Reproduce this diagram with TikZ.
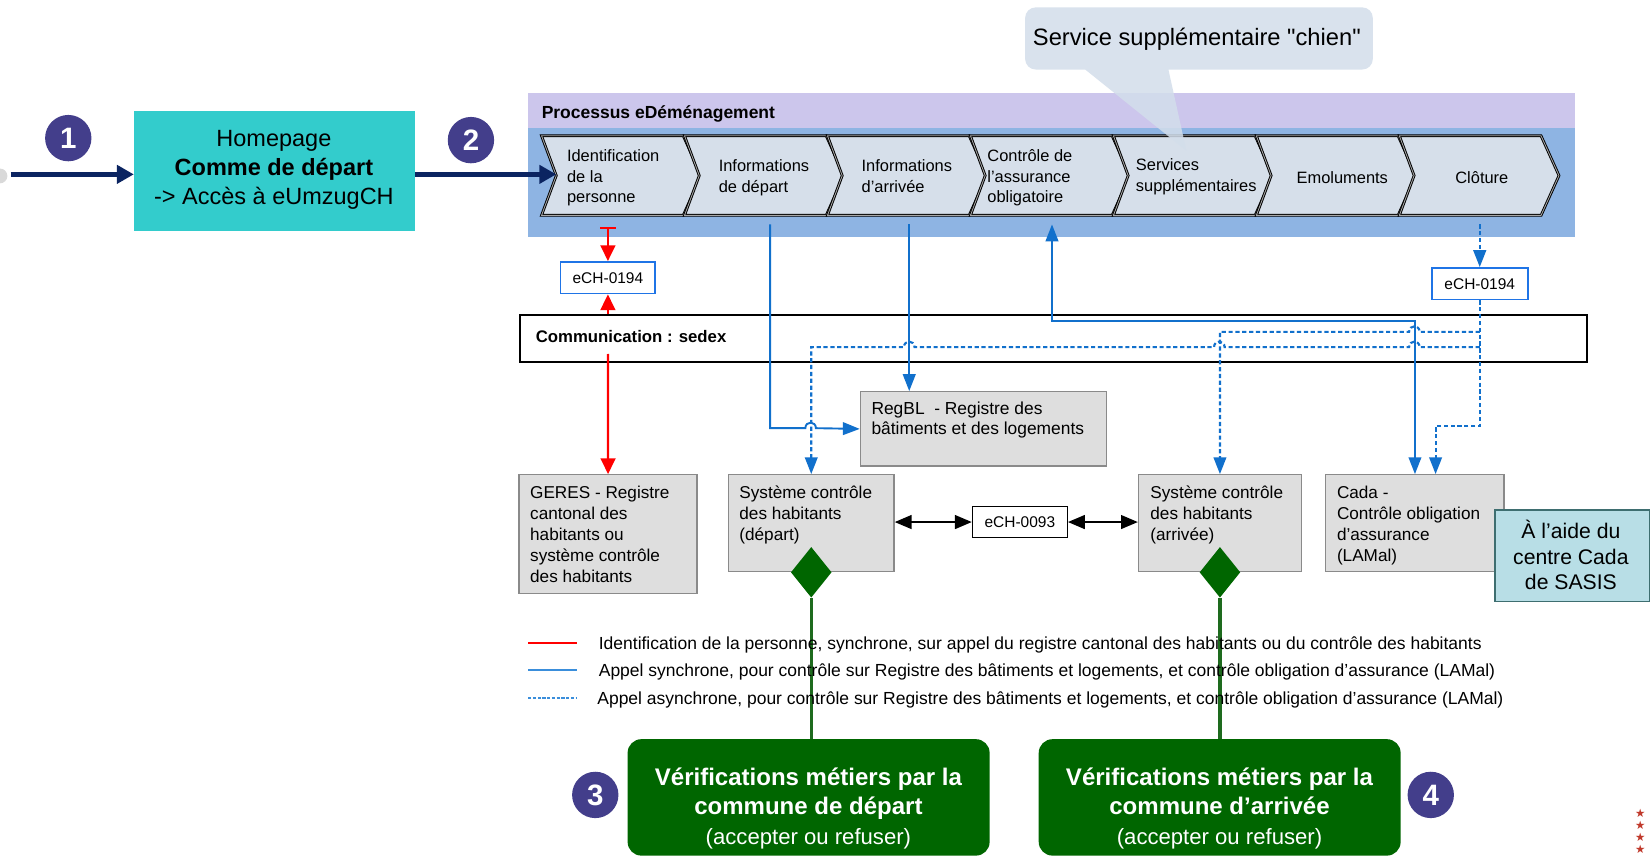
\documentclass[tikz,border=0pt]{standalone}
\usepackage{fontspec}
\setmainfont{Liberation Sans}[Ligatures=TeXOff]
\newfontfamily\starfont{DejaVu Sans}
\usetikzlibrary{arrows.meta,shapes.geometric}
\newcommand{\myfs}[2]{\fontsize{#1pt}{#2pt}\selectfont}
\definecolor{navy}{HTML}{0B2461}
\definecolor{numc}{HTML}{433E8B}
\definecolor{turq}{HTML}{33CCCC}
\definecolor{bandc}{HTML}{CCC6EC}
\definecolor{contc}{HTML}{8EB4E3}
\definecolor{chevc}{HTML}{D6DFEA}
\definecolor{lblue}{HTML}{1170CC}
\definecolor{echb}{HTML}{1F74E6}
\definecolor{boxg}{HTML}{DEDEDE}
\definecolor{boxb}{HTML}{8A8A8A}
\definecolor{dgreen}{HTML}{006600}
\definecolor{glin}{HTML}{1E6B1E}
\definecolor{sasisc}{HTML}{B8DEE6}
\definecolor{sasisb}{HTML}{3E6E70}
\definecolor{callc}{HTML}{D3DEEB}
\definecolor{legblue}{HTML}{3A8EDB}
\definecolor{starc}{HTML}{C0392B}
\tikzset{
  numcirc/.style={circle, fill=numc, minimum size=44pt, inner sep=0pt, text=white, font=\myfs{28}{30}\bfseries},
  navyarr/.style={draw=navy, line width=4.5pt, -{Triangle[length=16pt,width=17pt]}},
  chevron/.style={fill=chevc, draw=black, line width=0.9pt, double=gray!70, double distance=0.8pt},
  ptxt/.style={inner sep=0pt, anchor=north west, align=left},
  ctxt/.style={inner sep=0pt, anchor=north, align=center},
  echbox/.style={draw=echb, line width=1.6pt, fill=white, inner sep=0pt, font=\myfs{14.7}{17}},
  graybox/.style={draw=boxb, line width=1.3pt, fill=boxg, inner sep=0pt, anchor=north west},
  redarr/.style={draw=red, line width=2.2pt, -{Triangle[length=15pt,width=14pt]}},
  bluearr/.style={draw=lblue, line width=1.8pt, -{Triangle[length=16pt,width=12pt]}},
  bluedbl/.style={draw=lblue, line width=1.8pt, {Triangle[length=16pt,width=12pt]}-{Triangle[length=16pt,width=12pt]}},
  dotarr/.style={draw=lblue, line width=2pt, dash pattern=on 4pt off 2.5pt, -{Triangle[length=16pt,width=12pt]}},
  blkarr/.style={draw=black, line width=2pt, {Triangle[length=16pt,width=13pt]}-{Triangle[length=16pt,width=13pt]}},
  greenbox/.style={fill=dgreen, rounded corners=13pt, inner sep=0pt, anchor=north west},
  gdiam/.style={diamond, fill=dgreen, inner sep=0pt, minimum width=38.6pt, minimum height=48pt},
  legtxt/.style={inner sep=0pt, anchor=base west, font=\myfs{16.6}{19}},
}
\begin{document}
\begin{tikzpicture}[x=1pt,y=-1pt]
\useasboundingbox (0,0) rectangle (1568,812.5);
\fill[white] (0,0) rectangle (1568,812.5);

% ---------- process container ----------
\fill[contc] (501.3,88.5) rectangle (1494.5,225.3);
\fill[bandc] (501.3,88.5) rectangle (1494.5,121.5);
\node[inner sep=0pt, anchor=base west, font=\myfs{16.6}{19}\bfseries] (title) at (514,112.5) {Processus eDéménagement};

\foreach \cx in {514,649.7,785.4,921.1,1056.8,1192.5,1328.2}{
  \draw[chevron] (\cx,128.9) -- ++(134.5,0) -- ++(17,37.75) -- ++(-17,37.75) -- ++(-134.5,0) -- ++(14,-37.75) -- cycle;
}
\node[ptxt, font=\myfs{15.6}{19.5}] (c1) at (538,139.5) {\strut Identification\\de la\\personne};
\node[ptxt, font=\myfs{15.6}{19.5}] (c2) at (682,149.3) {\strut Informations\\de départ};
\node[ptxt, font=\myfs{15.6}{19.5}] (c3) at (817.6,149.3) {\strut Informations\\d’arrivée};
\node[ptxt, font=\myfs{15.6}{19.5}] (c4) at (937,139.5) {\strut Contrôle de\\l’assurance\\obligatoire};
\node[ptxt, font=\myfs{15.6}{19.5}] (c5) at (1078,148.4) {\strut Services\\supplémentaires};
\node[inner sep=0pt, anchor=base, font=\myfs{15.6}{19.5}] (c6) at (1274,174.6) {Emoluments};
\node[inner sep=0pt, anchor=base, font=\myfs{15.6}{19.5}] (c7) at (1406.5,174.6) {Clôture};

% ---------- callout ----------
\fill[callc, fill opacity=0.85] (1030,66) -- (983,66) .. controls (977.5,66) and (973,61.5) .. (973,56) -- (973,17) .. controls (973,11.5) and (977.5,7) .. (983,7) -- (1293,7) .. controls (1298.5,7) and (1303,11.5) .. (1303,17) -- (1303,56) .. controls (1303,61.5) and (1298.5,66) .. (1293,66) -- (1109,66) -- (1126,143) -- cycle;
\node[inner sep=0pt, anchor=base, font=\myfs{22.5}{26}] (calltxt) at (1136,43.5) {Service supplémentaire "chien"};

% ---------- homepage ----------
\fill[gray!30] (0,167) circle[radius=7pt];
\node[fill=turq, anchor=north west, minimum width=266.4pt, minimum height=114pt, inner sep=0pt] (home) at (127,105) {};
\node[ctxt, font=\myfs{22.3}{27.6}] (hometxt) at (260,119.3) {\strut Homepage\\\textbf{Comme de départ}\\-> Accès à eUmzugCH};
\coordinate (start) at (10,165.5);
\coordinate (c1notch) at (528,165.5);
\draw[navyarr] (start) -- (home.west |- start);
\draw[navyarr] (home.east |- c1notch) -- (c1notch);
\node[numcirc] (n1) at (64.8,131.1) {1};
\node[numcirc] (n2) at (447,133) {2};

% ---------- sedex ----------
\node[draw=black, line width=2pt, fill=white, anchor=north west, minimum width=1012.8pt, minimum height=45pt, inner sep=0pt] (sedex) at (492.2,298) {};
\node[inner sep=0pt, anchor=base west, font=\myfs{15.9}{19}\bfseries] (sedextxt) at (508.4,324.7) {Communication : sedex};

% ---------- eCH boxes ----------
\node[echbox, minimum width=90pt, minimum height=30pt] (ech1) at (577,263.6) {eCH-0194};
\node[echbox, minimum width=91pt, minimum height=30pt] (ech2) at (1404.5,269.3) {eCH-0194};

% ---------- registers ----------
\node[graybox, minimum width=233.6pt, minimum height=70.5pt] (regbl) at (816,371.2) {};
\node[ptxt, font=\myfs{16.5}{19.5}] (regtxt) at (827,379.3) {\strut RegBL\ \ - Registre des\\bâtiments et des logements};
\node[graybox, minimum width=169pt, minimum height=112.4pt] (geres) at (492,450) {};
\node[ptxt, font=\myfs{16.3}{20}] (gerestxt) at (503,458.6) {\strut GERES - Registre\\cantonal des\\habitants ou\\système contrôle\\des habitants};
\node[graybox, minimum width=157.1pt, minimum height=91.9pt] (sysdep) at (690.8,450) {};
\node[ptxt, font=\myfs{16.3}{20}] (sysdeptxt) at (701.6,458.6) {\strut Système contrôle\\des habitants\\(départ)};
\node[graybox, minimum width=154.5pt, minimum height=91.9pt] (sysarr) at (1080,450) {};
\node[ptxt, font=\myfs{16.3}{20}] (sysarrtxt) at (1091.7,458.6) {\strut Système contrôle\\des habitants\\(arrivée)};
\node[graybox, minimum width=169.3pt, minimum height=91.9pt] (cada) at (1257.7,450) {};
\node[ptxt, font=\myfs{16.3}{20}] (cadatxt) at (1268.8,458.6) {\strut Cada -\\Contrôle obligation\\d’assurance\\(LAMal)};
\node[draw=black, line width=1.2pt, fill=white, inner sep=0pt, minimum width=90pt, minimum height=29pt, font=\myfs{14.7}{17}] (ech3) at (968,495.5) {eCH-0093};
\node[draw=sasisb, line width=1.5pt, fill=sasisc, anchor=north west, minimum width=147pt, minimum height=86.6pt, inner sep=0pt] (sasis) at (1418,483.4) {};
\node[ctxt, font=\myfs{20.1}{24}] (sasistxt) at (1491,492.2) {\rule{0pt}{19pt}À l’aide du\\centre Cada\\de SASIS};

% ---------- red connectors ----------
\coordinate (r0) at (577,215);
\coordinate (r1) at (577,336);
\draw[draw=red, line width=2.2pt, {Bar[width=15pt]}-{Triangle[length=15pt,width=14pt]}] (r0) -- (ech1.north);
\draw[redarr] (sedex.north -| ech1) -- (ech1.south);
\draw[redarr] (r1) -- (geres.north);

% ---------- blue solid connectors ----------
\coordinate (b2) at (731,213);
\coordinate (b3) at (863,213);
\coordinate (b4) at (998.5,213);
\draw[bluearr] (b2) -- (731,406.4) -- (764.4,406.4) .. controls (764.4,399.4) and (774.4,399.4) .. (774.4,406.4) -- (regbl.west);
\draw[bluearr] (b3) -- (b3 |- regbl.north);
\draw[bluedbl] (b4) -- (998.5,304.5) -| (cada.north);

% ---------- blue dotted connectors ----------
\coordinate (d7) at (1404.5,213);
\coordinate (j1) at (1404.5,315);
\coordinate (j2) at (1404.5,329.5);
\draw[dotarr] (d7) -- (ech2.north);
\draw[dotarr] (ech2.south) -- (1404.5,404.4) -| ([xshift=19.6pt]cada.north);
\draw[dotarr] (j1) -- (1347.4,315) .. controls (1347.4,308) and (1337.4,308) .. (1337.4,315) -| (sysarr.north);
\draw[dotarr] (j2) -- (1347.4,329.5) .. controls (1347.4,322.5) and (1337.4,322.5) .. (1337.4,329.5)
   -- (1162.3,329.5) .. controls (1162.3,322.5) and (1152.3,322.5) .. (1152.3,329.5)
   -- (868,329.5) .. controls (868,322.5) and (858,322.5) .. (858,329.5) -| (sysdep.north);

% ---------- black arrows ----------
\draw[blkarr] (sysdep.east |- ech3.west) -- (ech3.west);
\draw[blkarr] (ech3.east) -- (sysarr.west |- ech3.east);

% ---------- green ----------
\node[greenbox, minimum width=343.6pt, minimum height=110.5pt] (g1) at (595.5,701.4) {};
\node[greenbox, minimum width=343.5pt, minimum height=110.5pt] (g2) at (985.7,701.4) {};
\node[gdiam] (dia1) at (sysdep.south) {};
\node[gdiam] (dia2) at (sysarr.south) {};
\draw[glin, line width=3pt] (dia1.south) -- (dia1.south |- g1.north);
\draw[glin, line width=3pt] (dia2.south) -- (dia2.south |- g2.north);
\node[ctxt, text=white, font=\myfs{22.8}{28}\bfseries] (g1t) at (767.3,725.4) {\strut Vérifications métiers par la\\commune de départ\\{\mdseries\myfs{21}{28}(accepter ou refuser)}};
\node[ctxt, text=white, font=\myfs{22.8}{28}\bfseries] (g2t) at (1157.5,725.4) {\strut Vérifications métiers par la\\commune d’arrivée\\{\mdseries\myfs{21}{28}(accepter ou refuser)}};
\node[numcirc] (n3) at (565,754.5) {3};
\node[numcirc] (n4) at (1358,754.5) {4};

% ---------- legend ----------
\draw[red, line width=2.2pt] (501.4,610) -- (547.9,610);
\draw[legblue, line width=2.2pt] (501.4,636) -- (547.9,636);
\draw[legblue, line width=2.2pt, dash pattern=on 3pt off 1.5pt] (501.4,662.5) -- (547.9,662.5);
\node[legtxt] (leg1) at (568.2,616) {Identification de la personne, synchrone, sur appel du registre cantonal des habitants ou du contrôle des habitants};
\node[legtxt] (leg2) at (568.2,642) {Appel synchrone, pour contrôle sur Registre des bâtiments et logements, et contrôle obligation d’assurance (LAMal)};
\node[legtxt] (leg3) at (566.8,668.5) {Appel asynchrone, pour contrôle sur Registre des bâtiments et logements, et contrôle obligation d’assurance (LAMal)};

% ---------- stars ----------
\node[inner sep=0pt, align=center, text=starc, font=\starfont\myfs{11}{11.5}] (stars) at (1557,789) {★\\★\\★\\★};
\end{tikzpicture}
\end{document}
